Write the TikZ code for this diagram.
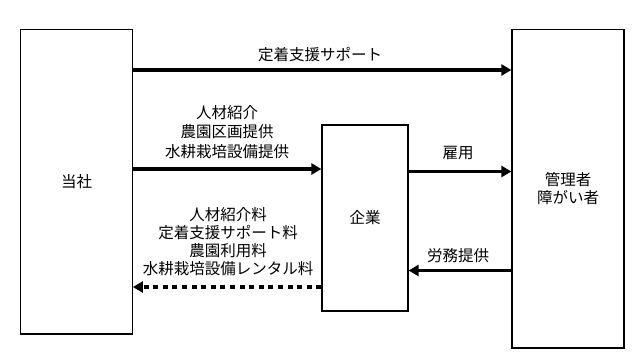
\documentclass[tikz,border=0pt]{standalone}
\usepackage{fontspec}
\setmainfont{Noto Sans CJK JP}
\usetikzlibrary{arrows.meta}
\begin{document}
\begin{tikzpicture}[x=1pt,y=-1pt,
  box/.style={draw,line width=1.2pt,inner sep=0pt,align=center,font=\fontsize{15.5}{17.5}\selectfont},
  lbl/.style={inner sep=0pt,align=center,font=\fontsize{15.5}{19.5}\selectfont},
  flow/.style={line width=3.8pt,-{Triangle[length=10pt,width=11pt]}},
  dotflow/.style={flow,dash pattern=on 5pt off 4.6pt}]
\useasboundingbox (0,0) rectangle (644,362);
\node[box,minimum width=111.6pt,minimum height=304.5pt] (L) at (76.5,181.8) {当社};
\node[box,minimum width=112pt,minimum height=318.5pt] (R) at (568,188.8) {管理者\\障がい者};
\node[box,minimum width=86pt,minimum height=186pt] (C) at (365,218) {企業};
\coordinate (y1) at (0,70);
\coordinate (y2) at (0,169);
\coordinate (y3) at (0,171.5);
\coordinate (y4) at (0,270.5);
\coordinate (y5) at (0,287);
\draw[flow] (L.east |- y1) -- (R.west |- y1);
\draw[flow] (L.east |- y2) -- (C.west |- y2);
\draw[flow] (C.east |- y3) -- (R.west |- y3);
\draw[flow] (R.west |- y4) -- (C.east |- y4);
\draw[dotflow] (C.west |- y5) -- (L.east |- y5);
\node[lbl] (t1) at (320,55) {定着支援サポート};
\node[lbl] (t2) at (227,132) {人材紹介\\農園区画提供\\水耕栽培設備提供};
\node[lbl,font=\fontsize{15.5}{18}\selectfont] (t3) at (228,242) {人材紹介料\\定着支援サポート料\\農園利用料\\水耕栽培設備レンタル料};
\node[lbl] (t4) at (458,153) {雇用};
\node[lbl] (t5) at (458,256) {労務提供};
\end{tikzpicture}
\end{document}
